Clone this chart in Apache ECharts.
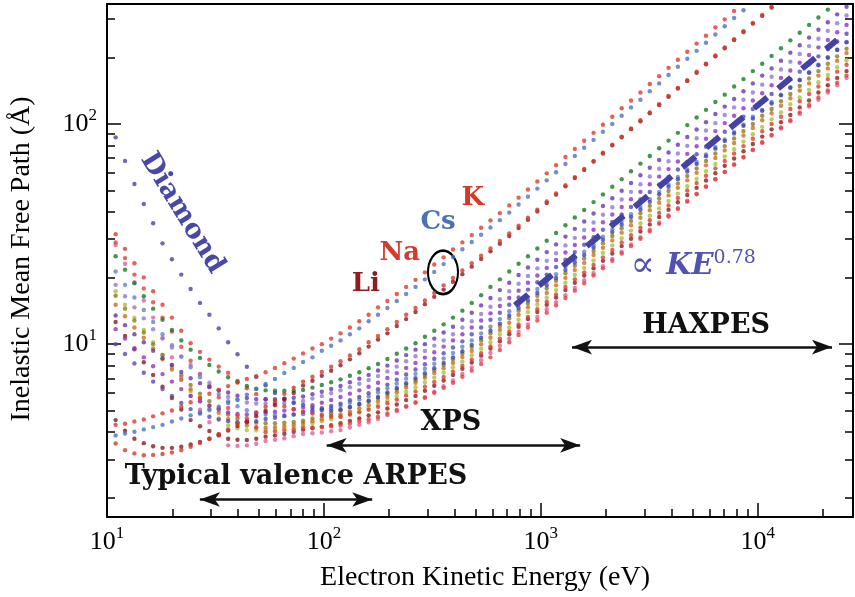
<!DOCTYPE html>
<html>
<head>
<meta charset="utf-8">
<script src="https://cdn.jsdelivr.net/npm/echarts@6.0.0/dist/echarts.min.js"></script>
<style>
  html, body { margin: 0; padding: 0; background: #fff; }
  #chart { width: 855px; height: 597px; }
</style>
</head>
<body>
<div id="chart"></div>
<script>
// electron kinetic energy of every dot column (eV)
const energy = [10.96, 12.11, 13.38, 14.78, 16.32, 18.03, 19.92, 22.0, 24.3, 26.84,
  29.65, 32.75, 36.18, 39.96, 44.14, 48.75, 53.85, 59.48, 65.7, 72.58,
  80.17, 88.55, 97.81, 108.0, 119.3, 131.8, 145.6, 160.8, 177.6, 196.2,
  216.8, 239.4, 264.5, 292.2, 322.7, 356.5, 393.7, 434.9, 480.4, 530.7,
  586.1, 647.5, 715.2, 790.0, 872.6, 963.8, 1065, 1176, 1299, 1435,
  1585, 1751, 1934, 2136, 2360, 2606, 2879, 3180, 3513, 3880,
  4285, 4734, 5229, 5776, 6380, 7047, 7784, 8598, 9497, 10490,
  11590, 12800, 14140, 15620, 17250, 19050, 21050, 23250, 25680]

// IMFP curves of the main group of materials (Å)
const green = [25.1, 21.8, 18.9, 16.5, 14.5, 12.9, 11.6, 10.4, 9.44, 8.66,
  8.04, 7.51, 7.08, 6.73, 6.46, 6.28, 6.17, 6.14, 6.14, 6.15,
  6.19, 6.35, 6.52, 6.71, 6.92, 7.19, 7.46, 7.77, 8.13, 8.56,
  9.04, 9.56, 10.1, 10.8, 11.5, 12.3, 13.2, 14.2, 15.4, 16.7,
  18.2, 19.7, 21.4, 23.2, 25.1, 27.2, 29.5, 32.0, 34.7, 37.6,
  40.7, 44.2, 47.9, 51.9, 56.2, 61.0, 66.1, 71.6, 77.6, 84.1,
  91.2, 98.9, 107, 116, 126, 136, 148, 160, 174, 188,
  204, 221, 240, 260, 282, 305, 331, 359, 389]
const purple = [13.5, 12.2, 11.1, 10.2, 9.33, 8.64, 8.04, 7.47, 7.00, 6.65,
  6.38, 6.17, 6.03, 5.83, 5.69, 5.63, 5.62, 5.63, 5.66, 5.71,
  5.78, 5.92, 6.08, 6.26, 6.46, 6.71, 6.97, 7.25, 7.59, 7.99,
  8.43, 8.92, 9.44, 10.0, 10.6, 11.3, 12.0, 12.9, 13.9, 15.0,
  16.2, 17.6, 19.0, 20.6, 22.3, 24.2, 26.2, 28.4, 30.8, 33.4,
  36.1, 39.2, 42.4, 46.0, 49.8, 54.0, 58.5, 63.3, 68.6, 74.3,
  80.5, 87.3, 94.5, 102, 111, 120, 130, 141, 153, 166,
  179, 194, 211, 228, 247, 268, 290, 315, 341]
const lilac = [18.6, 16.5, 14.7, 13.1, 11.7, 10.6, 9.66, 8.78, 8.04, 7.29,
  6.68, 6.17, 5.75, 5.57, 5.43, 5.38, 5.37, 5.38, 5.41, 5.45,
  5.52, 5.66, 5.81, 5.98, 6.17, 6.38, 6.61, 6.87, 7.16, 7.52,
  7.91, 8.36, 8.81, 9.31, 9.85, 10.4, 11.1, 11.9, 12.7, 13.7,
  14.8, 16.0, 17.4, 18.8, 20.4, 22.1, 23.9, 25.9, 28.1, 30.4,
  33.0, 35.7, 38.7, 41.9, 45.4, 49.2, 53.3, 57.8, 62.6, 67.8,
  73.5, 79.6, 86.2, 93.4, 101, 110, 119, 129, 139, 151,
  164, 177, 192, 208, 226, 244, 265, 287, 311]
const violet = [11.7, 10.6, 9.59, 8.71, 7.94, 7.31, 6.76, 6.25, 5.82, 5.50,
  5.25, 5.05, 4.90, 4.82, 4.79, 4.82, 4.90, 4.93, 4.99, 5.06,
  5.15, 5.28, 5.42, 5.58, 5.75, 5.96, 6.17, 6.41, 6.68, 7.02,
  7.39, 7.80, 8.22, 8.69, 9.19, 9.75, 10.4, 11.1, 11.9, 12.8,
  13.8, 14.9, 16.2, 17.5, 19.0, 20.5, 22.2, 24.1, 26.1, 28.2,
  30.5, 33.1, 35.8, 38.8, 42.0, 45.5, 49.2, 53.3, 57.7, 62.4,
  67.6, 73.2, 79.3, 85.8, 92.9, 101, 109, 118, 128, 138,
  150, 162, 175, 190, 206, 223, 241, 261, 282]
const indigo = [10.0, 9.02, 8.17, 7.41, 6.76, 6.26, 5.82, 5.41, 5.07, 4.84,
  4.68, 4.55, 4.47, 4.42, 4.42, 4.47, 4.57, 4.63, 4.71, 4.80,
  4.92, 5.01, 5.12, 5.24, 5.37, 5.56, 5.76, 5.98, 6.24, 6.55,
  6.90, 7.28, 7.67, 8.11, 8.58, 9.10, 9.66, 10.3, 11.1, 11.9,
  12.9, 13.9, 15.1, 16.3, 17.7, 19.1, 20.7, 22.4, 24.2, 26.2,
  28.3, 30.6, 33.1, 35.9, 38.8, 42.0, 45.4, 49.1, 53.2, 57.5,
  62.2, 67.3, 72.9, 78.8, 85.3, 92.3, 99.8, 108, 117, 126,
  137, 148, 160, 173, 187, 203, 219, 237, 257]
const steel = [21.4, 18.6, 16.3, 14.3, 12.6, 11.1, 9.89, 8.78, 7.85, 7.08,
  6.46, 5.93, 5.50, 5.22, 5.01, 4.88, 4.79, 4.76, 4.76, 4.78,
  4.81, 4.90, 5.00, 5.12, 5.25, 5.42, 5.60, 5.79, 6.03, 6.31,
  6.62, 6.97, 7.33, 7.73, 8.15, 8.61, 9.12, 9.73, 10.4, 11.2,
  12.0, 13.0, 14.1, 15.2, 16.4, 17.8, 19.2, 20.8, 22.5, 24.3,
  26.3, 28.4, 30.8, 33.3, 36.0, 38.9, 42.1, 45.5, 49.2, 53.2,
  57.5, 62.2, 67.3, 72.8, 78.7, 85.1, 92.0, 99.5, 108, 116,
  126, 136, 147, 159, 172, 186, 201, 218, 236]
const olive = [16.6, 14.5, 12.8, 11.3, 10.0, 8.94, 8.04, 7.22, 6.53, 5.96,
  5.50, 5.11, 4.79, 4.60, 4.47, 4.40, 4.37, 4.37, 4.40, 4.43,
  4.49, 4.60, 4.72, 4.86, 5.01, 5.16, 5.32, 5.49, 5.69, 5.94,
  6.22, 6.52, 6.84, 7.21, 7.60, 8.04, 8.51, 9.08, 9.70, 10.4,
  11.2, 12.1, 13.1, 14.2, 15.3, 16.6, 17.9, 19.4, 21.0, 22.7,
  24.5, 26.5, 28.7, 31.0, 33.6, 36.3, 39.3, 42.5, 45.9, 49.7,
  53.7, 58.1, 62.8, 67.9, 73.5, 79.4, 85.9, 92.9, 100, 109,
  117, 127, 137, 149, 161, 174, 188, 203, 220]
const orange = [15.1, 13.4, 11.9, 10.7, 9.55, 8.54, 7.67, 6.90, 6.24, 5.69,
  5.25, 4.88, 4.57, 4.40, 4.27, 4.20, 4.17, 4.20, 4.25, 4.31,
  4.39, 4.47, 4.56, 4.67, 4.79, 4.94, 5.11, 5.28, 5.50, 5.75,
  6.04, 6.35, 6.68, 7.03, 7.39, 7.78, 8.22, 8.75, 9.32, 9.98,
  10.7, 11.6, 12.5, 13.6, 14.7, 15.8, 17.1, 18.5, 20.0, 21.7,
  23.4, 25.4, 27.4, 29.6, 32.1, 34.7, 37.5, 40.6, 43.9, 47.4,
  51.3, 55.5, 60.0, 64.9, 70.1, 75.9, 82.0, 88.7, 95.9, 104,
  112, 121, 131, 142, 153, 166, 179, 194, 210]
const lime = [17.4, 15.1, 13.2, 11.6, 10.2, 8.94, 7.85, 6.90, 6.10, 5.50,
  5.01, 4.60, 4.27, 4.15, 4.07, 4.06, 4.07, 4.10, 4.15, 4.21,
  4.29, 4.37, 4.46, 4.56, 4.68, 4.82, 4.96, 5.12, 5.31, 5.54,
  5.80, 6.09, 6.38, 6.71, 7.06, 7.43, 7.85, 8.35, 8.90, 9.54,
  10.2, 11.1, 11.9, 12.9, 14.0, 15.1, 16.3, 17.6, 19.0, 20.6,
  22.2, 24.0, 26.0, 28.1, 30.3, 32.8, 35.4, 38.3, 41.4, 44.7,
  48.3, 52.2, 56.4, 61.0, 65.9, 71.2, 76.9, 83.2, 89.9, 97.1,
  105, 113, 123, 132, 143, 155, 167, 181, 195]
const red = [31.6, 27.1, 23.3, 20.1, 17.4, 15.1, 13.2, 11.5, 10.1, 9.23,
  8.51, 7.91, 7.41, 6.81, 6.31, 5.93, 5.62, 5.41, 5.22, 5.06,
  4.92, 4.84, 4.78, 4.72, 4.68, 4.79, 4.90, 5.03, 5.19, 5.39,
  5.60, 5.85, 6.10, 6.41, 6.74, 7.10, 7.50, 7.98, 8.50, 9.11,
  9.77, 10.6, 11.4, 12.3, 13.3, 14.4, 15.6, 16.8, 18.2, 19.7,
  21.2, 22.9, 24.8, 26.8, 29.0, 31.3, 33.8, 36.6, 39.5, 42.7,
  46.1, 49.9, 53.9, 58.2, 62.9, 68.0, 73.5, 79.4, 85.8, 92.7,
  100, 108, 117, 127, 137, 148, 160, 173, 186]
const maroon = [12.6, 10.9, 9.48, 8.27, 7.24, 6.41, 5.69, 5.05, 4.52, 4.24,
  4.03, 3.85, 3.72, 3.68, 3.67, 3.72, 3.80, 3.85, 3.92, 4.00,
  4.09, 4.15, 4.21, 4.28, 4.37, 4.48, 4.60, 4.74, 4.90, 5.10,
  5.32, 5.57, 5.82, 6.14, 6.47, 6.84, 7.24, 7.73, 8.26, 8.87,
  9.55, 10.3, 11.1, 12.0, 13.0, 14.0, 15.1, 16.3, 17.6, 19.0,
  20.5, 22.1, 23.9, 25.8, 27.9, 30.1, 32.5, 35.0, 37.8, 40.8,
  44.1, 47.6, 51.3, 55.4, 59.8, 64.6, 69.7, 75.2, 81.2, 87.7,
  94.6, 102, 110, 119, 128, 139, 150, 162, 174]
const pink = [28.2, 23.2, 19.1, 15.8, 13.2, 10.7, 8.71, 7.10, 5.82, 5.04,
  4.42, 3.89, 3.47, 3.45, 3.47, 3.53, 3.63, 3.68, 3.74, 3.82,
  3.91, 3.94, 3.97, 4.02, 4.07, 4.18, 4.30, 4.42, 4.57, 4.76,
  4.97, 5.19, 5.43, 5.74, 6.08, 6.44, 6.84, 7.32, 7.84, 8.45,
  9.12, 9.84, 10.6, 11.4, 12.3, 13.3, 14.4, 15.5, 16.7, 18.0,
  19.5, 21.0, 22.6, 24.4, 26.3, 28.4, 30.6, 33.1, 35.7, 38.5,
  41.5, 44.8, 48.3, 52.1, 56.2, 60.6, 65.4, 70.5, 76.1, 82.1,
  88.5, 95.5, 103, 111, 120, 129, 139, 150, 162]
const scarlet = [29.0, 24.6, 20.7, 17.9, 15.5, 13.2, 11.4, 9.74, 8.41, 7.33,
  6.46, 5.73, 5.13, 4.74, 4.42, 4.17, 3.98, 4.01, 4.06, 4.11,
  4.19, 4.19, 4.21, 4.23, 4.27, 4.36, 4.45, 4.55, 4.68, 4.84,
  5.02, 5.22, 5.43, 5.71, 6.01, 6.33, 6.68, 7.11, 7.58, 8.12,
  8.71, 9.41, 10.2, 11.0, 11.9, 12.8, 13.9, 15.0, 16.2, 17.5,
  18.9, 20.5, 22.1, 23.9, 25.8, 27.9, 30.1, 32.6, 35.2, 38.0,
  41.1, 44.4, 48.0, 51.9, 56.1, 60.6, 65.5, 70.8, 76.5, 82.7,
  89.3, 96.5, 104, 113, 122, 132, 142, 154, 166]

// curves that stand apart from the group
const diamond = [87, 68, 53.4, 43.3, 35.4, 28.7, 24.3, 20.7, 17.8, 15.4,
  13.6, 11.8, 10.2, 9.0, 7.9, 7.1, 6.5, 6.0, 5.65, 5.4,
  5.3, 5.15, 5.05, 5.0, 5.05, 5.18, 5.35, 5.53, 5.75, 6.03,
  6.32, 6.65, 7.00, 7.38, 7.78, 8.22, 8.71, 9.29, 9.93, 10.7,
  11.5, 12.4, 13.5, 14.6, 15.8, 17.1, 18.5, 20.0, 21.7, 23.5,
  25.4, 27.5, 29.8, 32.3, 34.9, 37.8, 40.9, 44.3, 48.0, 51.9,
  56.2, 60.9, 65.9, 71.4, 77.3, 83.7, 90.6, 98.1, 106, 115,
  124, 135, 146, 158, 171, 185, 200, 217, 235]
const potassium = [4.3, 4.35, 4.45, 4.55, 4.7, 4.85, 5.0, 5.2, 5.45, 5.7,
  5.95, 6.2, 6.45, 6.7, 6.95, 7.15, 7.45, 7.8, 8.2, 8.6,
  9.08, 9.55, 10.0, 10.6, 11.2, 11.9, 12.7, 13.6, 14.7, 15.7,
  16.9, 18.2, 19.6, 21.2, 23.0, 24.8, 26.9, 29.0, 31.3, 33.8,
  36.5, 39.4, 42.7, 46.3, 50.4, 54.8, 59.7, 65.0, 70.8, 77.1,
  83.9, 91.2, 99.3, 108, 118, 128, 139, 152, 165, 180,
  196, 213, 232, 252, 275, 299, 326]
const cesium = [3.85, 3.93, 4.0, 4.1, 4.2, 4.3, 4.45, 4.6, 4.75, 4.9,
  5.05, 5.2, 5.4, 5.6, 5.9, 6.25, 6.6, 6.95, 7.4, 7.8,
  8.3, 8.71, 9.33, 9.84, 10.4, 11.1, 11.8, 12.7, 13.6, 14.6,
  15.7, 16.9, 18.2, 19.7, 21.3, 23.1, 24.9, 27.0, 29.1, 31.4,
  33.9, 36.6, 39.6, 43.1, 46.8, 50.9, 55.5, 60.4, 65.8, 71.6,
  78.0, 84.7, 92.3, 100, 109, 119, 129, 141, 153, 167,
  182, 198, 215, 234, 255, 278, 303, 329]
const sodium = [3.54, 3.3, 3.19, 3.13, 3.14, 3.17, 3.22, 3.3, 3.42, 3.56,
  3.72, 3.9, 4.1, 4.35, 4.6, 4.9, 5.2, 5.55, 5.95, 6.35,
  6.76, 7.11, 7.48, 7.89, 8.36, 8.89, 9.48, 10.2, 10.9, 11.7,
  12.6, 13.6, 14.6, 15.8, 17.1, 18.5, 20.0, 21.6, 23.3, 25.2,
  27.2, 29.4, 31.8, 34.5, 37.5, 40.8, 44.5, 48.4, 52.7, 57.4,
  62.5, 67.9, 74.0, 80.5, 87.7, 95.5, 104, 113, 123, 134,
  146, 158, 173, 188, 205, 223, 243, 264, 288, 313, 340]
const lithium = [4.52, 4.04, 3.72, 3.55, 3.44, 3.38, 3.38, 3.42, 3.5, 3.6,
  3.72, 3.88, 4.05, 4.25, 4.45, 4.7, 4.98, 5.28, 5.6, 6.0,
  6.49, 6.82, 7.18, 7.57, 8.02, 8.53, 9.10, 9.75, 10.5, 11.2,
  12.1, 13.0, 14.0, 15.2, 16.4, 17.7, 19.2, 20.8, 22.5, 24.4,
  26.4, 28.6, 31.0, 33.7, 36.7, 40.1, 43.8, 47.8, 52.1, 56.9,
  61.9, 67.5, 73.5, 80.0, 87.1, 94.8, 103, 112, 122, 133,
  145, 157, 171, 187, 203, 221, 241, 262, 286, 310, 338]

// power-law guide  ∝ KE^0.78
const fitEnergy = [760, 23200]
const fitPath = [15.0, 241]

// range arrows: left tip, right tip (eV) and height (Å)
const arrowLeft = [26.8, 103, 1393]
const arrowRight = [167, 1518, 22000]
const arrowLevel = [1.97, 3.47, 9.7]

// axis ranges and ticks
const xMin = 10, xMax = 27500
const yMin = 1.64, yMax = 351
const xMajor = [10, 100, 1000, 10000]
const xMinor = [20, 30, 40, 50, 60, 70, 80, 90, 200, 300, 400, 500, 600, 700, 800, 900,
  2000, 3000, 4000, 5000, 6000, 7000, 8000, 9000, 20000]
const yMajor = [10, 100]
const yMinor = [2, 3, 4, 5, 6, 7, 8, 9, 20, 30, 40, 50, 60, 70, 80, 90, 200, 300]

const serif = 'Liberation Serif'
const bold = 'DejaVu Serif'

let chartDom = document.getElementById('chart')
let myChart = echarts.init(chartDom)

function dots(values, color) {
  return {
    type: 'scatter',
    data: values.map((v, i) => [energy[i], v]),
    symbolSize: 4.4,
    itemStyle: {color: color},
    clip: true,
    silent: true
  }
}

let powerLabel = {
  formatter: v => '{b|10}{s|' + Math.round(Math.log10(v)) + '}',
  rich: {
    b: {fontFamily: serif, fontSize: 26, color: '#000', lineHeight: 34},
    s: {fontFamily: serif, fontSize: 17, color: '#000', lineHeight: 17, verticalAlign: 'top'}
  }
}

function logAxis(pos, min, max, opts) {
  return Object.assign({
    type: 'log', logBase: 10, min: min, max: max, position: pos,
    axisLine: {show: false, onZero: false},
    axisTick: {show: false},
    axisLabel: {show: false},
    splitLine: {show: false}
  }, opts)
}
const frame = {show: true, onZero: false, lineStyle: {color: '#000', width: 2}}

let option = {
  animation: false,
  grid: {left: 107, right: 2, top: 4, bottom: 80},
  xAxis: [
    logAxis('bottom', xMin, xMax, {
      axisLine: frame,
      axisTick: {show: true, inside: true, length: 14, customValues: xMajor, lineStyle: {color: '#000', width: 1.5}},
      axisLabel: Object.assign({show: true, margin: 8, customValues: xMajor}, powerLabel)
    }),
    logAxis('bottom', xMin, xMax, {
      axisTick: {show: true, inside: true, length: 8, customValues: xMinor, lineStyle: {color: '#000', width: 1.5}}
    }),
    logAxis('top', xMin, xMax, {axisLine: frame})
  ],
  yAxis: [
    logAxis('left', yMin, yMax, {
      axisLine: frame,
      axisTick: {show: true, inside: true, length: 14, customValues: yMajor, lineStyle: {color: '#000', width: 1.5}},
      axisLabel: Object.assign({show: true, margin: 10, customValues: yMajor}, powerLabel)
    }),
    logAxis('left', yMin, yMax, {
      axisTick: {show: true, inside: true, length: 8, customValues: yMinor, lineStyle: {color: '#000', width: 1.5}}
    }),
    logAxis('right', yMin, yMax, {
      axisLine: frame,
      axisTick: {show: true, inside: true, length: 14, customValues: yMajor, lineStyle: {color: '#000', width: 1.5}}
    }),
    logAxis('right', yMin, yMax, {
      axisTick: {show: true, inside: true, length: 8, customValues: yMinor, lineStyle: {color: '#000', width: 1.5}}
    })
  ],
  series: [
    dots(lime, '#a6c23a'),
    dots(orange, '#d06d16'),
    dots(olive, '#8d7a1c'),
    dots(steel, '#5f84c8'),
    dots(maroon, '#8d1c1c'),
    dots(indigo, '#5448b8'),
    dots(pink, '#e0609e'),
    dots(violet, '#9130c8'),
    dots(scarlet, '#e4403a'),
    dots(lilac, '#8e78d2'),
    dots(red, '#e03a30'),
    dots(purple, '#6536b6'),
    dots(green, '#177a27'),
    dots(diamond, '#4545a8'),
    dots(lithium, '#8a1b1b'),
    dots(sodium, '#d6392d'),
    dots(cesium, '#4a74bf'),
    dots(potassium, '#dc3a2d'),
    {
      type: 'line',
      data: fitEnergy.map((e, i) => [e, fitPath[i]]),
      symbol: 'none',
      silent: true,
      z: 3,
      lineStyle: {color: '#4343a6', width: 6, type: [17, 14], cap: 'butt'},
      markLine: {
        silent: true,
        symbol: ['arrow', 'arrow'],
        symbolSize: [11, 20],
        label: {show: false},
        lineStyle: {color: '#111', width: 2.5, type: 'solid'},
        data: arrowLeft.map((e, i) => [{coord: [e, arrowLevel[i]]}, {coord: [arrowRight[i], arrowLevel[i]]}])
      }
    }
  ]
}
myChart.setOption(option)

// text notes, placed at data positions
const px = (e, l) => myChart.convertToPixel({xAxisIndex: 0, yAxisIndex: 0}, [e, l])
function note(text, e, l, font, color, extra) {
  let p = px(e, l)
  return Object.assign({
    type: 'text', x: p[0], y: p[1], silent: true,
    style: {text: text, font: font, fill: color, align: 'center', verticalAlign: 'middle',
      textAlign: 'center', textVerticalAlign: 'middle'}
  }, extra || {})
}
const rangeNames = ['Typical valence ARPES', 'XPS', 'HAXPES']
const rangeE = [74.3, 385, 5780]
const rangeL = [2.48, 4.38, 12.1]
const metalNames = ['Li', 'Na', 'Cs', 'K']
const metalE = [156, 224, 336, 486]
const metalL = [18.7, 25.9, 35.9, 46.1]
const metalColors = ['#8b1f1f', '#d23c2f', '#4a72ba', '#d6392c']

let graphics = []
rangeNames.forEach((t, i) => graphics.push(note(t, rangeE[i], rangeL[i], 'bold 27px "' + bold + '"', '#111')))
metalNames.forEach((t, i) => graphics.push(note(t, metalE[i], metalL[i], 'bold 26px "' + bold + '"', metalColors[i])))
graphics.push(note('Diamond', 22.2, 39.4, 'bold 27px "' + bold + '"', '#4848a8', {rotation: -1.02}))

let ring = px(354, 21.2)
graphics.push({
  type: 'circle', x: ring[0], y: ring[1], scaleY: 1.45, silent: true,
  shape: {cx: 0, cy: 0, r: 15},
  style: {fill: 'none', stroke: '#000', lineWidth: 2, strokeNoScale: true}
})

let law = px(5040, 22.6)
graphics.push({
  type: 'text', x: law[0], y: law[1], silent: true,
  style: {
    text: '{a|∝ }{b|KE}{c|0.78}', align: 'center', verticalAlign: 'middle',
    textAlign: 'center', textVerticalAlign: 'middle',
    rich: {
      a: {fontFamily: bold, fontSize: 36, fill: '#5252b0', lineHeight: 36},
      b: {fontFamily: bold, fontSize: 29, fontWeight: 'bold', fontStyle: 'italic', fill: '#5252b0', lineHeight: 36},
      c: {fontFamily: bold, fontSize: 19, fill: '#5252b0', lineHeight: 20, verticalAlign: 'top'}
    }
  }
})

// axis titles
graphics.push({
  type: 'text', x: 485, y: 578, silent: true,
  style: {text: 'Electron Kinetic Energy (eV)', font: '28px "' + serif + '"', fill: '#000',
    align: 'center', verticalAlign: 'middle', textAlign: 'center', textVerticalAlign: 'middle'}
})
graphics.push({
  type: 'text', x: 22, y: 259, rotation: Math.PI / 2, silent: true,
  style: {text: 'Inelastic Mean Free Path (Å)', font: '28px "' + serif + '"', fill: '#000',
    align: 'center', verticalAlign: 'middle', textAlign: 'center', textVerticalAlign: 'middle'}
})

myChart.setOption({graphic: graphics})
</script>
</body>
</html>
